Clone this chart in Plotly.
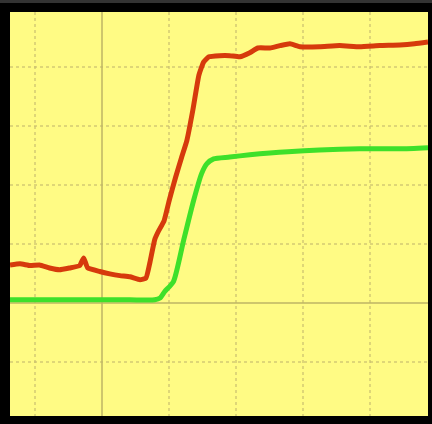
import plotly.graph_objects as go

# time axis in screen divisions, signal values in divisions
red_t = [-1.37, -1.22, -1.07, -0.93, -0.78, -0.63, -0.48, -0.33, -0.27, -0.21,
         -0.03, 0.12, 0.27, 0.42, 0.57, 0.66, 0.72, 0.79, 0.84, 0.93,
         1.01, 1.10, 1.19, 1.27, 1.36, 1.45, 1.52, 1.60, 1.76, 1.91,
         2.06, 2.21, 2.33, 2.51, 2.66, 2.81, 2.96, 3.25, 3.55, 3.85,
         4.15, 4.45, 4.67, 4.87]
red_v = [0.64, 0.66, 0.63, 0.64, 0.59, 0.56, 0.59, 0.63, 0.76, 0.59,
         0.53, 0.49, 0.46, 0.44, 0.39, 0.42, 0.69, 1.07, 1.20, 1.39,
         1.75, 2.12, 2.46, 2.75, 3.27, 3.86, 4.08, 4.17, 4.19, 4.19,
         4.17, 4.24, 4.32, 4.32, 4.36, 4.39, 4.34, 4.34, 4.36, 4.34,
         4.36, 4.37, 4.39, 4.42]

green_t = [-1.37, -0.63, -0.03, 0.42, 0.79, 0.87, 0.94, 1.07, 1.22, 1.37,
           1.49, 1.57, 1.67, 1.91, 2.21, 2.51, 2.78, 3.25, 3.85, 4.45, 4.87]
green_v = [0.05, 0.05, 0.05, 0.05, 0.05, 0.08, 0.19, 0.36, 1.05, 1.73,
           2.19, 2.36, 2.44, 2.47, 2.51, 2.54, 2.56, 2.59, 2.61, 2.61, 2.63]

fig = go.Figure()

fig.add_trace(go.Scatter(
    x=green_t, y=green_v, mode='lines',
    line=dict(color='#3ee02a', width=5, shape='spline', smoothing=0.6),
    showlegend=False
))
fig.add_trace(go.Scatter(
    x=red_t, y=red_v, mode='lines',
    line=dict(color='#d63a0c', width=5, shape='spline', smoothing=0.4),
    showlegend=False
))

axis_style = dict(
    showgrid=True, gridcolor='rgba(200,190,110,0.6)', gridwidth=2,
    griddash='dot', dtick=1, tick0=0,
    zeroline=True, zerolinecolor='rgba(190,180,100,0.75)', zerolinewidth=2,
    showticklabels=False, ticks='', showline=False, fixedrange=True
)

fig.update_xaxes(range=[-1.37, 4.87], **axis_style)
fig.update_yaxes(range=[-1.92, 4.93], **axis_style)

fig.update_layout(
    width=432, height=424,
    margin=dict(l=10, r=4, t=12, b=8),
    paper_bgcolor='#000000',
    plot_bgcolor='#fffb84',
    shapes=[dict(type='rect', xref='paper', yref='paper',
                 x0=-0.03, x1=1.01, y0=1 + 9 / 404, y1=1 + 12 / 404,
                 fillcolor='#333333', line=dict(width=0))]
)

# drop the page's default body margin so the figure sits at the window corner
fig.write_html("out.html", config={'displayModeBar': False},
               post_script="document.body.style.margin='0';")
